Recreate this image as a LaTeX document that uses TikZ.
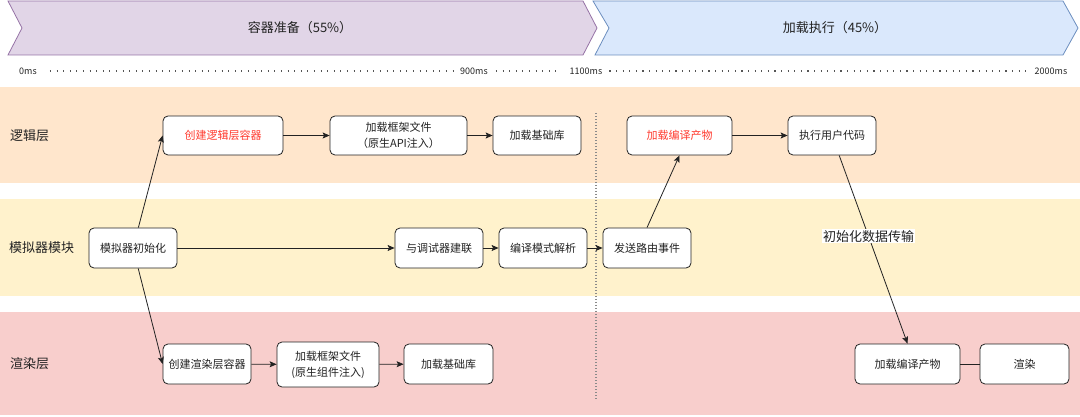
\documentclass[tikz,border=0pt]{standalone}
\usepackage{fontspec}
\setmainfont{Noto Sans CJK SC}
\usetikzlibrary{arrows.meta}
\definecolor{purfill}{HTML}{E1D5E7}
\definecolor{purline}{HTML}{9673A6}
\definecolor{bluefill}{HTML}{DAE8FC}
\definecolor{blueline}{HTML}{6C8EBF}
\definecolor{bandorange}{HTML}{FFE6CC}
\definecolor{bandyellow}{HTML}{FFF2CC}
\definecolor{bandred}{HTML}{F8CECC}
\definecolor{redtext}{HTML}{FF3B2F}
\definecolor{ink}{HTML}{222222}
\definecolor{dotgray}{HTML}{555555}
\definecolor{vdot}{HTML}{8A8A8A}
\begin{document}
\begin{tikzpicture}[x=1pt,y=-1pt,
  box/.style={draw=ink, line width=0.8pt, fill=white, rounded corners=5pt, align=center,
    inner sep=0pt, text=ink, font=\fontsize{11}{16}\selectfont},
  rowlabel/.style={anchor=west, text=ink, font=\fontsize{13}{15}\selectfont, inner sep=0pt},
  headtext/.style={text=ink, font=\fontsize{13}{15}\selectfont},
  tick/.style={text=ink, font=\fontsize{9}{10}\selectfont, inner sep=0pt},
  dotline/.style={dotgray, line width=1.1pt, dash pattern=on 1.1pt off 5.5pt, line cap=butt},
  arr/.style={draw=ink, line width=0.8pt, -{Stealth[length=7pt,width=6pt,inset=1.5pt]}},
  plain/.style={draw=ink, line width=0.8pt},
  lbl/.style={fill=white, inner sep=1pt, text=ink, font=\fontsize{13}{15}\selectfont}
]
\useasboundingbox (0,0) rectangle (1080,417);

% header chevrons
\filldraw[fill=purfill, draw=purline, line width=0.8pt]
  (8,1) -- (583,1) -- (597,28) -- (583,55) -- (8,55) -- (22,28) -- cycle;
\filldraw[fill=bluefill, draw=blueline, line width=0.8pt]
  (593,1) -- (1063,1) -- (1078,28) -- (1063,55) -- (595,55) -- (609,28) -- cycle;
\node[headtext] (h1) at (300,28) {容器准备（55\%）};
\node[headtext] (h2) at (835,28) {加载执行（45\%）};

% timeline
\node[tick] (t0) at (28,71) {0ms};
\node[tick] (t900) at (474,71) {900ms};
\node[tick] (t1100) at (586,71) {1100ms};
\node[tick] (t2000) at (1051,71) {2000ms};
\draw[dotline, shorten <=13pt, shorten >=6pt] (t0.east) -- (t900.west);
\draw[dotline, shorten <=8pt, shorten >=8pt] (t900.east) -- (t1100.west);
\draw[dotline, shorten <=7pt, shorten >=9pt] (t1100.east) -- (t2000.west);

% bands
\fill[bandorange] (0,87) rectangle (1080,183);
\fill[bandyellow] (0,199) rectangle (1080,296);
\fill[bandred] (0,312) rectangle (1080,415);

\node[rowlabel] (L1) at (10,135.5) {逻辑层};
\node[rowlabel] (L2) at (9,248) {模拟器模块};
\node[rowlabel] (L3) at (10,364) {渲染层};

% vertical dotted divider
\draw[vdot, line width=1.2pt, dash pattern=on 1.4pt off 1.6pt] (596,113) -- (596,400);

% logic layer
\node[box, minimum width=120pt, minimum height=39pt, text=redtext] (c1) at (223,135.5) {创建逻辑层容器};
\node[box, minimum width=137pt, minimum height=39pt] (f1) at (398.5,135.5) {加载框架文件\\（原生API注入）};
\node[box, minimum width=88pt, minimum height=39pt] (b1) at (537,135.5) {加载基础库};
\node[box, minimum width=105pt, minimum height=39pt, text=redtext] (lc) at (679.5,135.5) {加载编译产物};
\node[box, minimum width=88pt, minimum height=39pt] (ex) at (832,135.5) {执行用户代码};

% simulator
\node[box, minimum width=88pt, minimum height=40pt] (init) at (133,248) {模拟器初始化};
\node[box, minimum width=88pt, minimum height=40pt] (dbg) at (439,248) {与调试器建联};
\node[box, minimum width=88pt, minimum height=40pt] (cmp) at (543,248) {编译模式解析};
\node[box, minimum width=88pt, minimum height=40pt] (snd) at (647,248) {发送路由事件};

% render layer
\node[box, minimum width=88pt, minimum height=40pt] (c2) at (207,364) {创建渲染层容器};
\node[box, minimum width=102pt, minimum height=45pt] (f2) at (328,364.5) {加载框架文件\\(原生组件注入)};
\node[box, minimum width=89pt, minimum height=40pt] (b2) at (448.5,364) {加载基础库};
\node[box, minimum width=105pt, minimum height=40pt] (lr) at (907.5,364) {加载编译产物};
\node[box, minimum width=89pt, minimum height=40pt] (rd) at (1024.5,364) {渲染};

% connectors
\draw[arr] (init) -- (c1.west);
\draw[arr] (init) -- (c2.west);
\draw[arr] (init) -- (dbg);
\draw[arr] (dbg) -- (cmp);
\draw[arr] (cmp) -- (snd);
\draw[arr] (snd.north) -- (lc.south);
\draw[arr] (c1) -- (f1);
\draw[arr] (f1) -- (b1);
\draw[arr] (lc) -- (ex);
\draw[arr] (c2) -- (f2);
\draw[arr] (f2) -- (b2);
\draw[arr] (ex) -- node[lbl, pos=0.43] (dt) {初始化数据传输} (lr.north);
\draw[plain] (lr) -- (rd);
\end{tikzpicture}
\end{document}
